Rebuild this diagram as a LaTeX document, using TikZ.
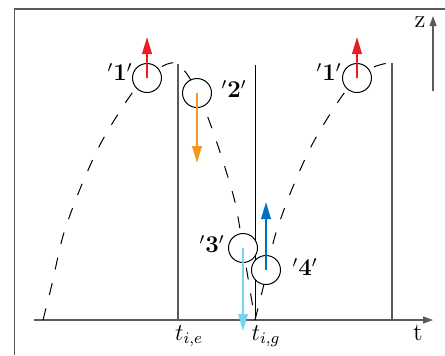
\documentclass[tikz,border=0pt]{standalone}
\usetikzlibrary{arrows.meta}
\definecolor{cred}{RGB}{236,28,36}
\definecolor{corange}{RGB}{242,152,30}
\definecolor{clblue}{RGB}{120,210,242}
\definecolor{cblue}{RGB}{0,112,192}
\definecolor{frame}{RGB}{90,90,90}
\tikzset{
  ball/.style={circle,draw=black,fill=white,line width=0.5pt,minimum size=14.5pt,inner sep=0pt},
  traj/.style={dash pattern=on 6pt off 7pt,line width=0.5pt},
  vel/.style={line width=0.9pt,-{Triangle[length=8.5pt,width=4.8pt]}},
  axis/.style={frame,line width=0.6pt,-{Triangle[length=5pt,width=3.5pt]}},
  lbl/.style={inner sep=0pt,font=\fontsize{11.5}{13}\selectfont},
  axlbl/.style={inner sep=0pt,font=\fontsize{12.5}{14}\selectfont}
}
\begin{document}
\begin{tikzpicture}[x=0.5pt,y=-0.5pt]
\useasboundingbox (0,0) rectangle (445,355);
% frame
\draw[frame,line width=0.7pt] (14.5,355) -- (14.5,9) -- (445,9);
% axes
\coordinate (t0) at (34,320);
\coordinate (t1) at (433,320);
\coordinate (z0) at (433,91);
\coordinate (z1) at (433,16);
\draw[axis] (t0) -- (t1);
\draw[axis] (z0) -- (z1);
\node[axlbl] (tl) at (418,333) {t};
\node[axlbl] (zl) at (420,22) {z};
% vertical lines
\coordinate (ve0) at (178,320); \coordinate (ve1) at (178,64);
\coordinate (vg0) at (255,320); \coordinate (vg1) at (255,65);
\coordinate (vr0) at (392,320); \coordinate (vr1) at (392,63);
\draw[frame,line width=0.6pt] (ve0) -- (ve1);
\draw[black,line width=0.5pt] (vg0) -- (vg1);
\draw[frame,line width=0.6pt] (vr0) -- (vr1);
% trajectories
\draw[traj] plot[smooth] coordinates {(43,320) (52,284) (63,236) (80,189) (102,141) (133,92) (158,69) (175,63) (189,77) (205,110) (220,152) (235,202) (243,248) (250,290) (255,320)};
\draw[traj] plot[smooth] coordinates {(255,320) (264,284) (275,236) (292,189) (314,141) (345,92) (370,69) (388,63)};
% balls
\node[ball] (b1) at (147,78) {};
\node[ball] (b2) at (197,93) {};
\node[ball] (b3) at (243,248) {};
\node[ball] (b4) at (266,270) {};
\node[ball] (b5) at (357,78) {};
% velocity arrows
\coordinate (a1) at (147,37);
\coordinate (a2) at (197,163);
\coordinate (a3) at (243,331);
\coordinate (a4) at (266,202);
\coordinate (a5) at (357,37);
\draw[vel,cred] (b1.center) -- (a1);
\draw[vel,corange] (b2.center) -- (a2);
\draw[vel,clblue] (b3.center) -- (a3);
\draw[vel,cblue] (b4.center) -- (a4);
\draw[vel,cred] (b5.center) -- (a5);
% labels
\node[lbl] (l1) at (120,72) {$^\prime\mathbf{1}^\prime$};
\node[lbl] (l2) at (234,89) {$^\prime\mathbf{2}^\prime$};
\node[lbl] (l3) at (212,244) {$^\prime\mathbf{3}^\prime$};
\node[lbl] (l4) at (305,267) {$^\prime\mathbf{4}^\prime$};
\node[lbl] (l5) at (329,72) {$^\prime\mathbf{1}^\prime$};
\node[lbl] (te) at (189,336) {$t_{i,e}$};
\node[lbl] (tg) at (266,336) {$t_{i,g}$};
\end{tikzpicture}
\end{document}
